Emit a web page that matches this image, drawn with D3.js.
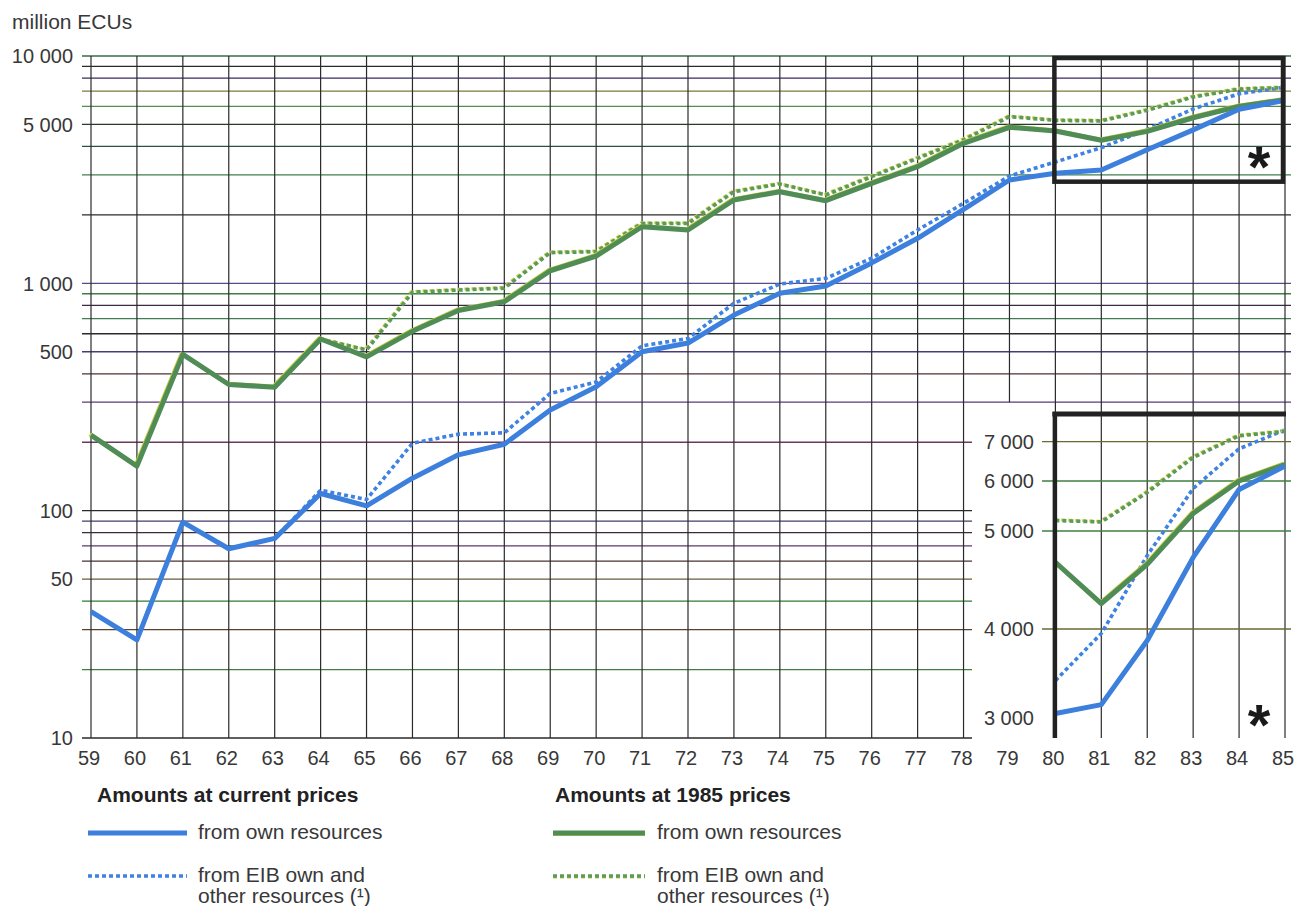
<!DOCTYPE html>
<html>
<head>
<meta charset="utf-8">
<script src="https://cdn.jsdelivr.net/npm/d3@7"></script>
<style>
  body { margin: 0; background: #fff; }
  svg { display: block; font-family: "Liberation Sans", Arial, Helvetica, sans-serif; }
</style>
</head>
<body>
<svg id="chart" width="1298" height="906"></svg>
<script>
// ---- data (million ECUs) ----
const years = [59, 60, 61, 62, 63, 64, 65, 66, 67, 68, 69, 70, 71, 72, 73, 74, 75, 76, 77, 78, 79, 80, 81, 82, 83, 84, 85];

// current prices
const currentOwn   = [36, 27, 89, 68, 75.5, 119, 105, 139, 176, 196, 277, 351, 500, 546, 725, 904, 974, 1230, 1578, 2117, 2848, 3050, 3150, 3870, 4730, 5830, 6380];
const currentTotal = [36, 27, 89, 68, 75.5, 123, 112, 198, 217, 220, 328, 368, 531, 572, 817, 993, 1052, 1290, 1716, 2249, 2965, 3420, 3950, 4750, 5850, 6820, 7300];

// 1985 prices
const constOwn     = [215, 157, 487, 359, 349, 569, 475, 615, 760, 830, 1136, 1318, 1774, 1716, 2326, 2529, 2310, 2754, 3260, 4130, 4857, 4680, 4260, 4660, 5350, 6000, 6420];
const constTotal   = [215, 157, 487, 359, 349, 569, 509, 913, 934, 952, 1364, 1378, 1834, 1834, 2529, 2735, 2446, 2945, 3548, 4270, 5410, 5210, 5180, 5770, 6600, 7150, 7260];

const yTicks      = [10, 50, 100, 500, 1000, 5000, 10000];
const yTickLabels = ["10", "50", "100", "500", "1 000", "5 000", "10 000"];

const gridValues = [10, 20, 30, 40, 50, 60, 70, 80, 90,
                    100, 200, 300, 400, 500, 600, 700, 800, 900,
                    1000, 2000, 3000, 4000, 5000, 6000, 7000, 8000, 9000, 10000];
const gridColors = ["#2a2a2a", "#3f7f45", "#5a4232", "#2f7a35", "#6a5a3a", "#4a3232", "#5a3a6a", "#3a2a3a", "#4a3a6a",
                    "#2a2a2a", "#6a3a5a", "#5a3a7a", "#4a3232", "#4a3a7a", "#2a2a2a", "#3f7f4f", "#3a2a4a", "#3f7f45",
                    "#5a4a8a", "#2a2a2a", "#3f7f4f", "#2f4f3f", "#2a3a2a", "#4f8f4f", "#7a7a3a", "#3a2a5a", "#2a2a2a", "#3a6a4a"];

// magnified window 1980-85
const insetYears       = [80, 81, 82, 83, 84, 85];
const insetTicks       = [3000, 4000, 5000, 6000, 7000];
const insetTickLabels  = ["3 000", "4 000", "5 000", "6 000", "7 000"];
const insetGridValues  = [4000, 5000, 6000, 7000];
const insetGridColors  = ["#6a6a30", "#3f7f3f", "#3f7f3f", "#6a6a30"];
const zoomWindow       = { from: 80, to: 85, low: 2800, high: 10000 };

// ---- scales ----
const svg = d3.select("#chart");
const x = d3.scaleLinear().domain([59, 85]).range([91, 1285]);
const y = d3.scaleLog().domain([10, 10000]).range([738, 56]);
// inset value axis: spacing follows the printed tick marks
const yi = d3.scaleLinear().domain(insetTicks).range([718, 629, 531, 481, 441.7]);

const textColor = "#383838";

// ---- grid ----
const grid = svg.append("g");
grid.selectAll("line.h").data(gridValues).join("line")
  .attr("class", "h")
  .attr("x1", 82)
  .attr("x2", d => d < 300 ? 972 : 1291)
  .attr("y1", d => y(d)).attr("y2", d => y(d))
  .attr("stroke", (d, i) => gridColors[i])
  .attr("stroke-width", 1.3);

grid.selectAll("line.v").data(years).join("line")
  .attr("class", "v")
  .attr("x1", d => x(d)).attr("x2", d => x(d))
  .attr("y1", y(10000))
  .attr("y2", d => d === 79 ? y(300) : y(10))
  .attr("stroke", "#2a2a2a")
  .attr("stroke-width", 1.2);

// ---- axis labels ----
svg.append("text").attr("x", 12).attr("y", 29)
  .attr("font-size", 21).attr("fill", textColor).text("million ECUs");

svg.append("g").selectAll("text").data(yTicks).join("text")
  .attr("x", 73).attr("y", d => y(d)).attr("dy", "0.36em")
  .attr("text-anchor", "end").attr("font-size", 20).attr("fill", textColor)
  .text((d, i) => yTickLabels[i]);

svg.append("g").selectAll("text").data(years).join("text")
  .attr("x", d => x(d) - 2).attr("y", 765)
  .attr("text-anchor", "middle").attr("font-size", 20).attr("fill", textColor)
  .text(d => String(d));

// ---- series ----
const styles = {
  currentOwn:   { color: "#3d7fdc", width: 5,   dash: null,  under: null },
  currentTotal: { color: "#3f82e2", width: 3.6, dash: "4 3", under: null },
  constOwn:     { color: "#4f8c56", width: 5,   dash: null,  under: "#c4cc3e" },
  constTotal:   { color: "#5b9a57", width: 3.6, dash: "4 3", under: "#c8cf48" }
};

function seriesPoints(values, yrs) {
  return yrs.map(yr => ({ year: yr, value: values[years.indexOf(yr)] }));
}

function drawSeries(g, values, yrs, st, yScale) {
  const line = d3.line().x(d => x(d.year)).y(d => yScale(d.value));
  const pts = seriesPoints(values, yrs);
  if (st.under) {
    g.append("path").datum(pts).attr("d", line)
      .attr("transform", "translate(-1.2,-0.8)")
      .attr("fill", "none").attr("stroke", st.under)
      .attr("stroke-width", st.width * 0.8)
      .attr("stroke-dasharray", st.dash)
      .attr("stroke-linejoin", "round");
  }
  g.append("path").datum(pts).attr("d", line)
    .attr("fill", "none").attr("stroke", st.color)
    .attr("stroke-width", st.width)
    .attr("stroke-dasharray", st.dash)
    .attr("stroke-linejoin", "round");
}

const main = svg.append("g");
drawSeries(main, currentTotal, years, styles.currentTotal, y);
drawSeries(main, constTotal, years, styles.constTotal, y);
drawSeries(main, constOwn, years, styles.constOwn, y);
drawSeries(main, currentOwn, years, styles.currentOwn, y);

// window of the magnified part
svg.append("rect")
  .attr("x", x(zoomWindow.from) - 1).attr("y", y(zoomWindow.high) + 2)
  .attr("width", x(zoomWindow.to) - x(zoomWindow.from) - 1)
  .attr("height", y(zoomWindow.low) - y(zoomWindow.high) - 2)
  .attr("fill", "none").attr("stroke", "#222").attr("stroke-width", 4.5);

svg.append("text").attr("x", x(84.5) - 3).attr("y", 187)
  .attr("text-anchor", "middle").attr("font-size", 58).attr("font-weight", "bold")
  .attr("fill", "#1a1a1a").text("*");

// ---- inset ----
const inset = svg.append("g");
inset.selectAll("line.ig").data(insetGridValues).join("line")
  .attr("class", "ig")
  .attr("x1", 1042).attr("x2", 1291)
  .attr("y1", d => yi(d)).attr("y2", d => yi(d))
  .attr("stroke", (d, i) => insetGridColors[i])
  .attr("stroke-width", 1.3);

inset.selectAll("text").data(insetTicks).join("text")
  .attr("x", 1034).attr("y", d => yi(d)).attr("dy", "0.36em")
  .attr("text-anchor", "end").attr("font-size", 20).attr("fill", textColor)
  .text((d, i) => insetTickLabels[i]);

svg.append("defs").append("clipPath").attr("id", "insetClip")
  .append("rect").attr("x", x(80)).attr("y", 416)
  .attr("width", 1291 - x(80)).attr("height", y(10) - 416);

const insetLines = inset.append("g").attr("clip-path", "url(#insetClip)");
drawSeries(insetLines, currentTotal, insetYears, styles.currentTotal, yi);
drawSeries(insetLines, constTotal, insetYears, styles.constTotal, yi);
drawSeries(insetLines, constOwn, insetYears, styles.constOwn, yi);
drawSeries(insetLines, currentOwn, insetYears, styles.currentOwn, yi);

// inset frame: heavy top and left edges
inset.append("line")
  .attr("x1", x(80) - 3).attr("x2", x(85) + 1)
  .attr("y1", 414).attr("y2", 414)
  .attr("stroke", "#222").attr("stroke-width", 5);
inset.append("line")
  .attr("x1", x(80) - 0.5).attr("x2", x(80) - 0.5)
  .attr("y1", 412).attr("y2", y(10))
  .attr("stroke", "#222").attr("stroke-width", 4.5);

inset.append("text").attr("x", x(84.5) - 3).attr("y", 745)
  .attr("text-anchor", "middle").attr("font-size", 58).attr("font-weight", "bold")
  .attr("fill", "#1a1a1a").text("*");

// ---- legend ----
const legendGroups = [
  { title: "Amounts at current prices", tx: 97, sx1: 88, sx2: 187, lx: 198,
    items: [[currentOwn, styles.currentOwn], [currentTotal, styles.currentTotal]] },
  { title: "Amounts at 1985 prices", tx: 555, sx1: 553, sx2: 645, lx: 657,
    items: [[constOwn, styles.constOwn], [constTotal, styles.constTotal]] }
];
const itemLabels = [["from own resources"], ["from EIB own and", "other resources (¹)"]];
const itemY = [833, 876];

const legend = svg.append("g");
legendGroups.forEach(gr => {
  legend.append("text").attr("x", gr.tx).attr("y", 802)
    .attr("font-size", 21).attr("font-weight", "bold").attr("fill", "#222")
    .text(gr.title);
  gr.items.forEach((it, k) => {
    const st = it[1];
    if (st.under) {
      legend.append("line")
        .attr("x1", gr.sx1).attr("x2", gr.sx2)
        .attr("y1", itemY[k] + 1).attr("y2", itemY[k] + 1)
        .attr("stroke", st.under).attr("stroke-width", st.width * 0.8)
        .attr("stroke-dasharray", st.dash);
    }
    legend.append("line")
      .attr("x1", gr.sx1).attr("x2", gr.sx2)
      .attr("y1", itemY[k]).attr("y2", itemY[k])
      .attr("stroke", st.color).attr("stroke-width", st.width)
      .attr("stroke-dasharray", st.dash);
    itemLabels[k].forEach((txt, j) => {
      legend.append("text").attr("x", gr.lx).attr("y", itemY[k] + 6 + j * 21)
        .attr("font-size", 21).attr("fill", textColor).text(txt);
    });
  });
});
</script>
</body>
</html>
